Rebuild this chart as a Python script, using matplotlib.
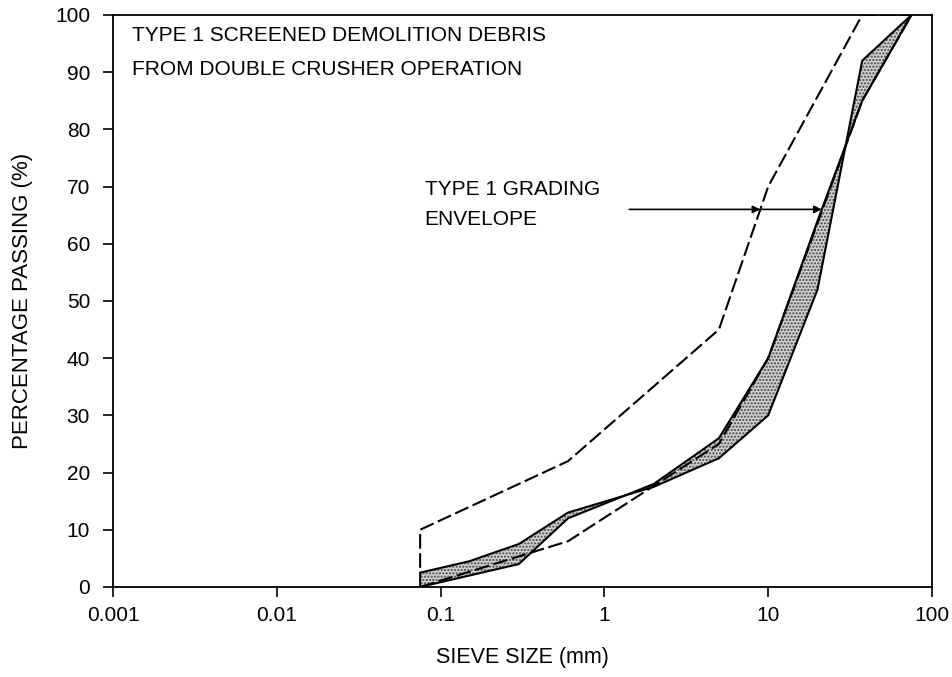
import numpy as np
import matplotlib.pyplot as plt

plt.rcParams['font.family'] = ['Liberation Sans', 'DejaVu Sans']

# Type 1 grading envelope (sieve size mm, % passing)
env_sieve = [0.075, 0.6, 5, 10, 37.5, 75]
env_upper = [10, 22, 45, 70, 100, 100]
env_lower = [0, 8, 25, 40, 85, 100]

# screened demolition debris, two gradings that bound the shaded band
deb_sieve = [0.075, 0.15, 0.3, 0.6, 2, 5, 10, 20, 37.5, 75]
deb_a = [2.5, 4.5, 7.5, 13, 17.5, 22.5, 30, 52, 92, 100]
deb_b = [0, 2, 4, 12, 18, 26, 40, 64, 85, 100]

xticks = [0.001, 0.01, 0.1, 1, 10, 100]
xticklabels = ['0.001', '0.01', '0.1', '1', '10', '100']
yticks = list(range(0, 101, 10))

fig = plt.figure(figsize=(9.52, 6.77), dpi=100)
ax = fig.add_axes([0.1187, 0.133, 0.8603, 0.845])

dash = (0, (7, 2.2))
# upper envelope starts with a vertical from 0 at the finest sieve
ax.plot([env_sieve[0]] + env_sieve, [0] + env_upper, color='black', lw=1.5, linestyle=dash)
ax.plot(env_sieve, env_lower, color='black', lw=1.5, linestyle=dash)

ax.fill_between(deb_sieve, deb_a, deb_b, facecolor='#cfcfcf', edgecolor='#444444',
                hatch='.....', linewidth=0)
ax.plot(deb_sieve, deb_a, color='black', lw=1.5)
ax.plot(deb_sieve, deb_b, color='black', lw=1.5)

ax.set_xscale('log')
ax.set_xlim(0.001, 100)
ax.set_ylim(0, 100)
ax.set_xticks(xticks)
ax.set_xticklabels(xticklabels)
ax.set_yticks(yticks)
ax.minorticks_off()
ax.tick_params(direction='out', length=7.5, width=1.2, labelsize=15)
ax.tick_params(axis='x', pad=6)
ax.tick_params(axis='y', pad=9)
for s in ax.spines.values():
    s.set_linewidth(1.3)

ax.set_xlabel('SIEVE SIZE (mm)', fontsize=15.5, labelpad=16)
ax.set_ylabel('PERCENTAGE PASSING (%)', fontsize=16, labelpad=16)

ax.text(0.0013, 96.4, 'TYPE 1 SCREENED DEMOLITION DEBRIS', fontsize=15, va='center', ha='left')
ax.text(0.0013, 90.5, 'FROM DOUBLE CRUSHER OPERATION', fontsize=15, va='center', ha='left')
ax.text(0.08, 69.4, 'TYPE 1 GRADING', fontsize=15, va='center', ha='left')
ax.text(0.08, 64.2, 'ENVELOPE', fontsize=15, va='center', ha='left')

# arrows pointing at envelope and band at 66 %
y_arr = 66
lx = np.log10(env_sieve)
x1 = 10 ** np.interp(y_arr, env_upper[:5], lx[:5])
x2 = 10 ** np.interp(y_arr, deb_b, np.log10(deb_sieve))
x0 = 1.42
ap = dict(arrowstyle='-|>', color='black', lw=1.2, mutation_scale=11, shrinkA=0, shrinkB=0)
ax.annotate('', xy=(x1, y_arr), xytext=(x0, y_arr), arrowprops=ap)
ax.annotate('', xy=(x2, y_arr), xytext=(x1, y_arr), arrowprops=ap)

fig.savefig('out.png', dpi=100)
